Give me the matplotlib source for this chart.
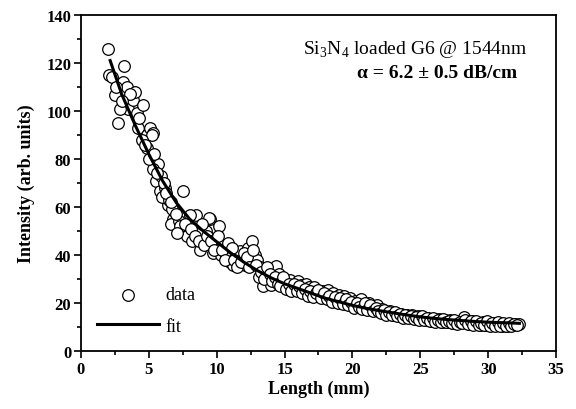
import matplotlib
matplotlib.use("Agg")
import matplotlib.pyplot as plt
from matplotlib.ticker import MultipleLocator

plt.rcParams['font.family'] = ['Liberation Serif', 'DejaVu Serif']
plt.rcParams['mathtext.fontset'] = 'custom'
plt.rcParams['mathtext.rm'] = 'Liberation Serif'
plt.rcParams['mathtext.bf'] = 'Liberation Serif:bold'

# measured data, part 1: length (mm), intensity (arb. units)
length_a = [2.0, 2.1, 2.5, 2.7, 3.1, 3.2, 3.4, 3.5, 3.8, 4.0, 4.1, 4.2, 4.6, 4.9, 5.1, 5.3,
            5.2, 4.9, 5.7, 5.5, 5.8, 7.5, 6.4, 6.8, 6.6, 7.5, 8.5, 9.5, 7.8, 8.2, 9.0, 8.0,
            9.4, 8.8, 9.7, 6.0, 6.2, 5.3, 5.0, 6.9, 7.2, 9.2, 9.9, 8.6, 5.9, 6.5,
            10.0, 10.2, 10.3, 10.5, 10.7, 10.9, 11.0, 11.2, 11.4, 11.7, 11.9, 12.1, 12.3,
            12.6, 12.8, 13.0, 13.2, 13.4, 13.6, 13.8, 13.1,
            14.0, 14.2, 14.4, 14.6, 14.8, 15.0, 15.2, 15.4, 15.6, 15.8, 16.0, 16.2, 16.4,
            16.6, 16.8, 17.0, 17.2, 17.4, 17.6, 17.8, 18.0, 18.2, 18.4, 18.6, 18.8, 19.0,
            19.2, 19.4, 19.6, 19.8, 20.0, 20.2, 20.4, 20.6, 20.8, 21.0, 21.2, 21.4, 21.6, 21.8,
            22.0, 22.2, 22.4, 22.6, 22.8, 23.0, 23.2, 23.4, 23.6, 23.8, 24.0, 24.2, 24.4,
            24.6, 24.8, 25.0, 25.2, 25.4, 25.6, 25.8, 26.0, 26.2, 26.4, 26.6, 26.8, 27.0,
            27.2, 27.4, 27.6, 27.8, 28.0, 28.2, 28.4, 28.6, 28.8, 29.0, 29.2, 29.4, 29.6,
            29.8, 30.0, 30.2, 30.4, 30.6, 30.8, 31.0, 31.2, 31.4, 31.6, 31.8, 32.0, 32.3]
intensity_a = [126, 115, 106.6, 95, 112, 118.7, 110, 101, 104.6, 108, 99, 93, 102.5, 90, 93, 90.8,
               90, 84.6, 78, 71, 66.5, 66.5, 60.7, 55, 53, 51, 56.5, 55, 48, 45.8, 47, 56.7,
               55.4, 42, 40.7, 64, 68, 76, 80, 58, 54, 50, 44, 50, 73, 63,
               43, 52, 40, 44, 39, 42, 37, 36, 40, 41.5, 38, 36, 43,
               46, 40, 38, 35, 27, 33, 31, 31,
               27.5, 33.5, 35.5, 32, 30, 28.5, 27, 29.5, 27, 26, 29, 27.5, 25,
               28, 26.5, 24.5, 26.5, 24, 23, 25, 23, 25.5, 22.5, 24, 21.5, 23.5,
               21, 23, 20.5, 22, 19.5, 21, 18.5, 21.5, 19, 18, 20, 18, 17.5, 19,
               16.5, 17.5, 16.0, 15.5, 16.8, 15.2, 16.0, 14.8, 15.5, 14.2, 15.0, 14.0, 14.8,
               13.6, 14.4, 13.2, 14.0, 13.0, 13.8, 12.6, 13.4, 12.4, 13.2, 12.2, 13.0, 12.0,
               12.8, 11.8, 12.6, 11.6, 12.4, 14.0, 12.2, 11.4, 12.3, 11.2, 12.0, 11.0, 12.2,
               11.0, 11.8, 10.8, 11.6, 10.8, 11.5, 10.6, 11.4, 10.6, 11.2, 10.8, 11.4, 11.3]

# measured data, part 2
length_b = [2.3, 2.6, 2.9, 3.6, 4.3, 4.5, 4.7, 3.0,
            5.4, 5.6, 6.1, 6.3, 6.7, 7.0, 7.3, 7.7, 8.1, 8.4, 8.7, 8.9, 9.1, 9.3, 9.6, 9.8, 7.1, 6.6,
            10.1, 10.4, 10.6, 10.8, 11.1, 11.3, 11.5, 11.8, 12.0, 12.2, 12.4, 12.7, 12.9, 13.3,
            13.5, 13.7, 13.9,
            14.1, 14.3, 14.5, 14.7, 14.9, 15.1, 15.3, 15.5, 15.7, 15.9, 16.1, 16.3, 16.5, 16.7,
            16.9, 17.1, 17.3, 17.5, 17.7, 17.9, 18.1, 18.3, 18.5, 18.7, 18.9, 19.1, 19.3, 19.5,
            19.7, 19.9, 20.1, 20.3, 20.5, 20.7, 20.9, 21.1, 21.3, 21.5, 21.7, 21.9,
            22.1, 22.3, 22.5, 22.7, 22.9, 23.1, 23.3, 23.5, 23.7, 23.9, 24.1, 24.3, 24.5, 24.7,
            24.9, 25.1, 25.3, 25.5, 25.7, 25.9, 26.1, 26.3, 26.5, 26.7, 26.9, 27.1, 27.3, 27.5,
            27.7, 27.9, 28.1, 28.3, 28.5, 28.7, 28.9, 29.1, 29.3, 29.5, 29.7, 29.9, 30.1, 30.3,
            30.5, 30.7, 30.9, 31.1, 31.3, 31.5, 31.7, 31.9, 32.1]
intensity_b = [114, 110, 101, 107, 97, 88, 86, 104,
               82, 74, 70, 66, 59, 57, 52, 53, 51, 48, 46, 53, 44, 48, 46, 42, 49, 62,
               48, 42, 38, 45, 43, 38, 35, 37, 41, 39, 35, 42, 36, 33,
               30, 35, 32,
               29, 31, 28, 27, 31, 26, 28, 25, 28, 25, 27, 24, 26, 23,
               25, 22.5, 24, 25.5, 22, 24, 21.5, 23, 20.5, 22.5, 20, 22, 19.5, 21.5,
               19, 20.5, 18, 20, 18.5, 17.5, 20, 17, 19, 16.8, 18, 16.5,
               15.8, 17, 15.2, 16.2, 14.8, 16.4, 14.5, 15.6, 13.9, 15.2, 13.6, 14.6, 13.4, 14.2,
               13.0, 14.4, 12.8, 13.6, 12.4, 13.8, 12.2, 13.0, 12.0, 13.4, 11.9, 12.6, 11.6, 12.9,
               11.4, 12.2, 11.5, 12.9, 11.2, 12.5, 11.0, 12.4, 10.9, 11.8, 10.7, 12.3, 10.6, 11.7,
               10.5, 11.9, 10.6, 11.6, 10.4, 11.5, 10.5, 11.2, 10.8]

# fitted curve
fit_length = [2.15, 3, 4, 5, 6, 7, 8, 9, 10, 11, 12, 13, 14, 15, 16, 17, 18, 19, 20,
              21, 22, 23, 24, 25, 26, 27, 28, 29, 30, 31, 32, 32.3]
fit_intensity = [121, 107, 94, 82, 71, 62, 55, 50, 45.5, 41, 37, 33.5, 30.5, 28, 26, 24, 22,
                 20.5, 19, 17.8, 16.8, 15.9, 15, 14.2, 13.6, 13.1, 12.7, 12.3, 12, 11.8, 11.6, 11.5]

x_ticks = [0, 5, 10, 15, 20, 25, 30, 35]
y_ticks = [0, 20, 40, 60, 80, 100, 120, 140]

fig = plt.figure(figsize=(5.76, 4.10), dpi=100)
ax = fig.add_axes([0.1406, 0.1415, 0.8247, 0.8195])

ax.scatter(length_a + length_b, intensity_a + intensity_b, s=70, facecolors='white',
           edgecolors='black', linewidths=0.9, label='data', zorder=2)
ax.plot(fit_length, fit_intensity, color='black', lw=2.2, label='fit', zorder=3)

ax.set_xlim(0, 35)
ax.set_ylim(0, 140)
ax.set_xticks(x_ticks)
ax.set_yticks(y_ticks)
ax.xaxis.set_minor_locator(MultipleLocator(2.5))
ax.yaxis.set_minor_locator(MultipleLocator(10))
ax.tick_params(which='major', direction='out', length=5, width=1.2, labelsize=12, pad=2)
ax.tick_params(which='minor', direction='out', length=3, width=1.2)
for lab in ax.get_xticklabels() + ax.get_yticklabels():
    lab.set_fontweight('bold')
for sp in ax.spines.values():
    sp.set_linewidth(1.3)

ax.set_xlabel('Length (mm)', fontsize=13, fontweight='bold', labelpad=2)
ax.set_ylabel('Intensity (arb. units)', fontsize=13, fontweight='bold', labelpad=8)

ax.text(0.939, 0.90, r'Si$_3$N$_4$ loaded G6 @ 1544nm', transform=ax.transAxes,
        ha='right', va='center', fontsize=14)
ax.text(0.918, 0.83, '\u03b1 = 6.2 \u00b1 0.5 dB/cm', transform=ax.transAxes,
        ha='right', va='center', fontsize=14, fontweight='bold')

leg = ax.legend(loc='lower left', bbox_to_anchor=(0.0, 0.0), frameon=False,
                fontsize=13, handlelength=3.4, handletextpad=0.4, labelspacing=0.8)

fig.savefig('out.png', dpi=100)
